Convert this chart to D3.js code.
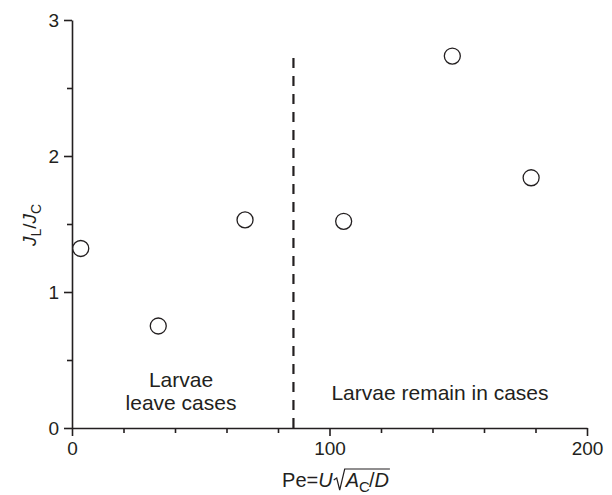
<!DOCTYPE html>
<html><head><meta charset="utf-8">
<script src="https://cdn.jsdelivr.net/npm/d3@7"></script>
<style>
body{margin:0;background:#fff}
svg text{font-family:"Liberation Sans",Arial,sans-serif;fill:#231f20}
</style>
</head><body><svg id="c" width="612" height="495"></svg>
<script>
const peValues = [3.4, 33.5, 67.2, 105.5, 147.7, 178.3];
const ratioValues = [1.32, 0.75, 1.53, 1.52, 2.735, 1.84];
const xMajorTicks = [0, 100, 200];
const xMinorTicks = [20, 40, 60, 80, 120, 140, 160, 180];
const yMajorTicks = [0, 1, 2, 3];
const yMinorTicks = [0.5, 1.5, 2.5];
const thresholdPe = [86];
const thresholdTop = [2.735];
const leftNote = ["Larvae", "leave cases"];
const rightNote = ["Larvae remain in cases"];

(function () {
const svg = d3.select("#c");
const x = d3.scaleLinear().domain([0, 200]).range([72, 587]);
const y = d3.scaleLinear().domain([0, 3]).range([428, 20]);
const ink = "#231f20";

function styleAxis(g) {
  g.selectAll("path,line").attr("stroke", ink).attr("stroke-width", 1.6);
  g.selectAll("text").attr("fill", ink).style("font-size", "19px")
    .style("font-family", '"Liberation Sans",Arial,sans-serif');
}

// minor ticks
svg.append("g").attr("transform", `translate(0,${y(0)})`)
  .call(d3.axisBottom(x).tickValues(xMinorTicks).tickSize(5).tickFormat("").tickSizeOuter(0))
  .call(styleAxis).call(g => g.select(".domain").remove());
svg.append("g").attr("transform", `translate(${x(0)},0)`)
  .call(d3.axisLeft(y).tickValues(yMinorTicks).tickSize(5).tickFormat("").tickSizeOuter(0))
  .call(styleAxis).call(g => g.select(".domain").remove());

// major axes
svg.append("g").attr("transform", `translate(0,${y(0)})`)
  .call(d3.axisBottom(x).tickValues(xMajorTicks).tickSize(8).tickPadding(6).tickSizeOuter(0).tickFormat(d3.format("d")))
  .call(styleAxis);
svg.append("g").attr("transform", `translate(${x(0)},0)`)
  .call(d3.axisLeft(y).tickValues(yMajorTicks).tickSize(8).tickPadding(5).tickSizeOuter(0).tickFormat(d3.format("d")))
  .call(styleAxis);

// threshold dashed line
svg.selectAll("line.thr").data(thresholdPe).enter().append("line")
  .attr("x1", d => x(d)).attr("x2", d => x(d))
  .attr("y1", y(0)).attr("y2", y(thresholdTop[0]))
  .attr("stroke", ink).attr("stroke-width", 2.2)
  .attr("stroke-dasharray", "10,8");

// points
svg.selectAll("circle.pt").data(peValues.map((v, i) => [v, ratioValues[i]]))
  .enter().append("circle")
  .attr("cx", d => x(d[0])).attr("cy", d => y(d[1])).attr("r", 8)
  .attr("fill", "#fff").attr("stroke", ink).attr("stroke-width", 1.3);

// annotations
svg.append("text").attr("text-anchor", "middle").style("font-size", "21px")
  .selectAll("tspan").data(leftNote).enter().append("tspan")
  .attr("x", 181).attr("y", (d, i) => 387 + i * 23).text(d => d);
svg.append("text").attr("text-anchor", "middle").style("font-size", "21px")
  .attr("x", 440).attr("y", 400).text(rightNote[0]);

// y label
const yl = svg.append("text").attr("transform", "translate(36,225) rotate(-90)")
  .attr("text-anchor", "middle").style("font-size", "19px");
yl.append("tspan").style("font-style", "italic").text("J");
yl.append("tspan").attr("dy", 5).style("font-size", "14px").text("L");
yl.append("tspan").attr("dy", -5).text("/");
yl.append("tspan").style("font-style", "italic").text("J");
yl.append("tspan").attr("dy", 5).style("font-size", "14px").text("C");

// x label with radical
const xg = svg.append("g");
let cx = 0;
const base = 487;
function piece(str, opts) {
  const t = xg.append("text").attr("x", cx).attr("y", base + (opts.dy || 0))
    .style("font-size", (opts.size || 20) + "px")
    .style("font-style", opts.italic ? "italic" : "normal").text(str);
  const w = t.node().getComputedTextLength();
  cx += w + (opts.after || 0);
  return t;
}
piece("Pe=", {});
piece("U", {italic: true, after: 1});
const rStart = cx;
cx += 12;
piece("A", {italic: true});
piece("C", {size: 15, dy: 5, after: -1});
piece("/", {});
piece("D", {italic: true, after: 1});
const rEnd = cx;
const radTop = base - 18;
xg.append("path")
  .attr("d", `M${rStart},${base - 7} L${rStart + 3},${base - 9} L${rStart + 6},${base + 3} L${rStart + 11},${radTop} L${rEnd},${radTop}`)
  .attr("fill", "none").attr("stroke", ink).attr("stroke-width", 1.2);
const totalW = cx;
xg.attr("transform", `translate(${336 - totalW / 2},0)`);
})();
</script>
</body></html>
